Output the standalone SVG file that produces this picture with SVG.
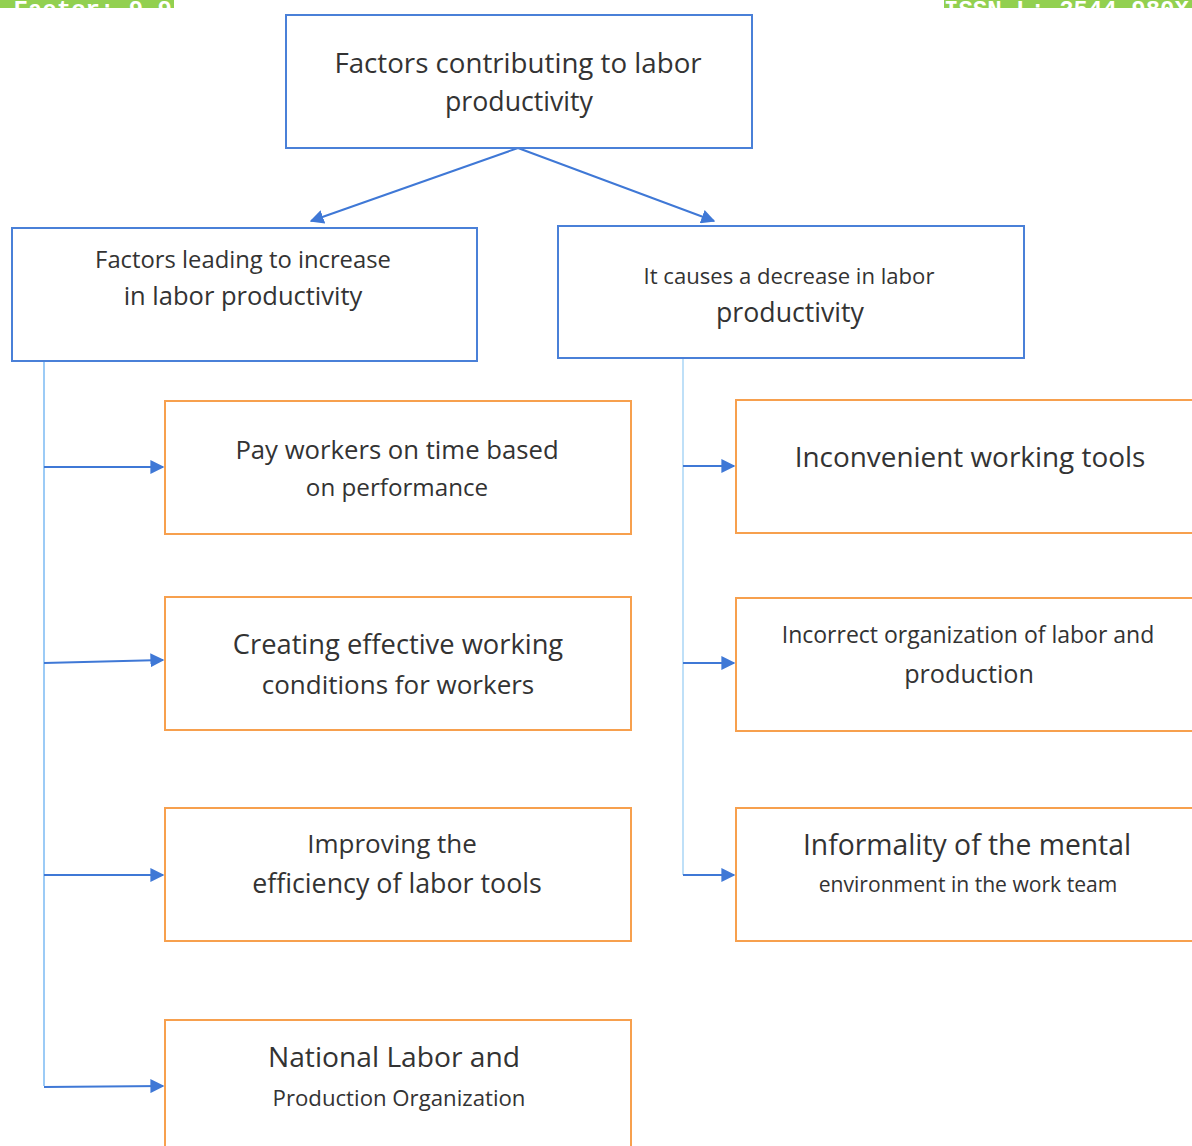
<svg xmlns="http://www.w3.org/2000/svg" width="1192" height="1146" viewBox="0 0 1192 1146">
<defs>
<style>
.bb{fill:#fff;stroke:#4a80d8;stroke-width:2}
.ob{fill:#fff;stroke:#f7a04e;stroke-width:2}
.t{font-family:"Open Sans","Liberation Sans",sans-serif;fill:#333;text-anchor:middle}
.ar{stroke:#3f78d6;stroke-width:2;fill:none}
.vl{stroke:#9ccbf6;stroke-width:2;fill:none}
.vr{stroke:#bfe0f8;stroke-width:2;fill:none}
.hd{font-family:"Liberation Mono",monospace;font-weight:bold;fill:#fff;font-size:24px}
</style>
<marker id="ah" viewBox="0 0 10 10" refX="9" refY="5" markerWidth="14" markerHeight="14" markerUnits="userSpaceOnUse" orient="auto">
<path d="M0,0 L10,5 L0,10 z" fill="#3f78d6"/>
</marker>
<clipPath id="c1"><rect x="0" y="0" width="174" height="8"/></clipPath>
<clipPath id="c2"><rect x="944" y="0" width="248" height="8"/></clipPath>
</defs>
<rect width="1192" height="1146" fill="#fff"/>
<g id="header">
<rect x="0" y="0" width="174" height="8" fill="#92d050"/>
<rect x="944" y="0" width="248" height="8" fill="#92d050"/>
<text class="hd" x="172" y="17" text-anchor="end" clip-path="url(#c1)">Impact Factor: 9.9</text>
<text class="hd" x="944" y="17" clip-path="url(#c2)">ISSN-L: 2544-980X</text>
</g>
<g id="connectors">
<line class="ar" x1="518" y1="148" x2="311" y2="221" marker-end="url(#ah)"/>
<line class="ar" x1="518" y1="148" x2="714" y2="221" marker-end="url(#ah)"/>
<polyline class="vl" points="44,361 44,1086"/>
<line class="ar" x1="44" y1="467" x2="163" y2="467" marker-end="url(#ah)"/>
<line class="ar" x1="44" y1="663" x2="163" y2="660" marker-end="url(#ah)"/>
<line class="ar" x1="44" y1="875" x2="163" y2="875" marker-end="url(#ah)"/>
<line class="ar" x1="44" y1="1087" x2="163" y2="1086" marker-end="url(#ah)"/>
<polyline class="vr" points="683,358 683,875"/>
<line class="ar" x1="683" y1="466" x2="734" y2="466" marker-end="url(#ah)"/>
<line class="ar" x1="683" y1="663" x2="734" y2="663" marker-end="url(#ah)"/>
<line class="ar" x1="683" y1="875" x2="734" y2="875" marker-end="url(#ah)"/>
</g>
<g id="top">
<rect class="bb" x="286" y="15" width="466" height="133"/>
<text class="t" x="518" y="73" font-size="27.7">Factors contributing to labor</text>
<text class="t" x="519" y="111" font-size="26.7">productivity</text>
</g>
<g id="increase">
<rect class="bb" x="12" y="228" width="465" height="133"/>
<text class="t" x="243" y="268" font-size="23.8">Factors leading to increase</text>
<text class="t" x="243" y="305" font-size="25.5">in labor productivity</text>
</g>
<g id="decrease">
<rect class="bb" x="558" y="226" width="466" height="132"/>
<text class="t" x="789" y="284" font-size="22.1">It causes a decrease in labor</text>
<text class="t" x="790" y="322" font-size="26.7">productivity</text>
</g>
<g id="pay">
<rect class="ob" x="165" y="401" width="466" height="133"/>
<text class="t" x="397" y="459" font-size="25.7">Pay workers on time based</text>
<text class="t" x="397" y="496" font-size="24.2">on performance</text>
</g>
<g id="conditions">
<rect class="ob" x="165" y="597" width="466" height="133"/>
<text class="t" x="398" y="654" font-size="27.3">Creating effective working</text>
<text class="t" x="398" y="694" font-size="26">conditions for workers</text>
</g>
<g id="tools">
<rect class="ob" x="165" y="808" width="466" height="133"/>
<text class="t" x="392" y="853" font-size="26">Improving the</text>
<text class="t" x="397" y="893" font-size="26.8">efficiency of labor tools</text>
</g>
<g id="national">
<rect class="ob" x="165" y="1020" width="466" height="140"/>
<text class="t" x="394" y="1067" font-size="28.2">National Labor and</text>
<text class="t" x="399" y="1106" font-size="22.2">Production Organization</text>
</g>
<g id="inconvenient">
<rect class="ob" x="736" y="400" width="470" height="133"/>
<text class="t" x="970" y="467" font-size="27.9">Inconvenient working tools</text>
</g>
<g id="incorrect">
<rect class="ob" x="736" y="598" width="470" height="133"/>
<text class="t" x="968" y="643" font-size="23">Incorrect organization of labor and</text>
<text class="t" x="969" y="683" font-size="25.2">production</text>
</g>
<g id="informality">
<rect class="ob" x="736" y="808" width="470" height="133"/>
<text class="t" x="967" y="855" font-size="28.3">Informality of the mental</text>
<text class="t" x="968" y="892" font-size="21.1">environment in the work team</text>
</g>
</svg>
